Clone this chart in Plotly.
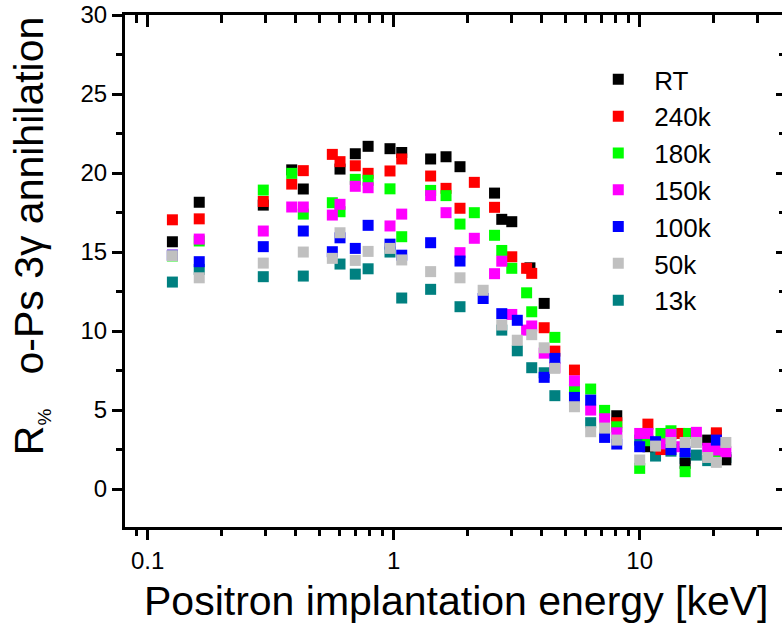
import plotly.graph_objects as go

# ---------------- data ----------------
series_names = ["RT", "240k", "180k", "150k", "100k", "50k", "13k"]
series_colors = ["#000000", "#FF0000", "#00FF00", "#FF00FF", "#0000FF", "#C0C0C0", "#008080"]

E_RT = [0.126, 0.162, 0.295, 0.385, 0.429, 0.605, 0.698, 0.787, 0.966, 1.078, 1.413, 1.632, 1.86,
        2.57, 2.75, 3.02, 3.58, 4.09, 8.07, 10.8, 15.3, 18.9, 22.4]
R_RT = [15.65, 18.15, 17.97, 20.2, 18.99, 20.25, 21.22, 21.69, 21.54, 21.3, 20.89, 21.03, 20.4,
        18.73, 17.07, 16.92, 14.0, 11.75, 4.64, 2.68, 1.63, 3.1, 1.85]

E_240 = [0.126, 0.162, 0.295, 0.385, 0.429, 0.563, 0.605, 0.698, 0.787, 0.966, 1.078, 1.413, 1.632,
         1.86, 2.127, 2.57, 3.02, 3.47, 3.64, 4.09, 4.52, 5.43, 8.07, 10.8, 12.2, 14.6, 20.5]
R_240 = [17.04, 17.1, 18.2, 19.3, 20.15, 21.18, 20.72, 20.46, 19.98, 20.13, 20.89, 19.81, 19.03,
         17.77, 19.41, 17.83, 14.7, 13.97, 13.65, 10.21, 8.73, 7.53, 4.2, 4.11, 2.5, 3.52, 3.56]

E_180 = [0.126, 0.162, 0.295, 0.385, 0.429, 0.563, 0.605, 0.698, 0.787, 0.966, 1.078, 1.413, 1.632,
         1.86, 2.127, 2.57, 2.75, 3.02, 3.47, 3.64, 4.52, 5.43, 6.32, 7.2, 8.07, 10.0, 10.8, 12.2,
         13.4, 15.3, 15.8, 20.5]
R_180 = [14.75, 15.7, 18.92, 19.98, 17.4, 18.12, 17.55, 19.6, 19.54, 19.0, 15.97, 18.9, 18.57,
         16.77, 17.49, 16.06, 15.1, 13.97, 12.42, 11.22, 9.6, 6.31, 6.33, 4.98, 3.94, 1.31, 3.06, 3.52,
         3.69, 1.1, 3.52, 2.2]

E_150 = [0.126, 0.162, 0.295, 0.385, 0.429, 0.563, 0.605, 0.698, 0.787, 0.966, 1.078, 1.413, 1.632,
         1.86, 2.127, 2.57, 2.75, 3.02, 3.47, 3.64, 4.09, 4.52, 5.43, 6.32, 7.2, 8.07, 10.0, 10.8,
         12.2, 13.4, 14.6, 17.0, 18.9, 20.5, 22.4]
R_150 = [14.8, 15.82, 16.33, 17.85, 17.85, 17.34, 18.02, 19.16, 19.07, 16.65, 17.4, 18.57, 17.49,
         14.96, 15.87, 13.63, 14.42, 11.05, 10.06, 10.32, 8.6, 7.7, 6.85, 5.0, 4.45, 3.56, 3.52, 3.52,
         2.86, 3.46, 2.68, 3.59, 2.58, 2.47, 2.36]

E_100 = [0.126, 0.162, 0.295, 0.429, 0.563, 0.605, 0.698, 0.787, 0.966, 1.078, 1.413, 1.86, 2.31,
         2.75, 3.18, 4.09, 4.52, 5.43, 6.32, 7.2, 8.07, 10.0, 11.6, 13.4, 15.3, 20.5]
R_100 = [14.8, 14.39, 15.34, 16.33, 15.02, 15.9, 15.23, 16.69, 15.5, 14.8, 15.59, 14.43, 12.06,
         11.1, 10.68, 7.07, 8.27, 5.8, 5.63, 3.27, 2.85, 2.68, 3.0, 2.5, 2.36, 3.1]

E_50 = [0.126, 0.162, 0.295, 0.429, 0.563, 0.605, 0.698, 0.787, 0.966, 1.078, 1.413, 1.86, 2.31,
        2.75, 3.18, 3.64, 4.09, 4.52, 5.43, 6.32, 7.2, 8.07, 10.0, 11.6, 13.4, 15.3, 17.0, 18.9,
        20.5, 22.4]
R_50 = [14.77, 13.37, 14.3, 15.0, 14.6, 16.22, 14.47, 15.04, 15.23, 14.5, 13.76, 13.37, 12.58,
        10.38, 9.42, 9.77, 8.94, 7.64, 5.21, 3.63, 3.86, 3.1, 1.84, 2.72, 2.95, 2.95, 2.95, 2.0,
        1.69, 2.95]

E_13 = [0.126, 0.162, 0.295, 0.429, 0.605, 0.698, 0.787, 0.966, 1.078, 1.413, 1.86, 2.75, 3.18,
        3.64, 4.09, 4.52, 6.32, 10.0, 11.6, 13.4, 15.3, 17.0, 18.9, 20.5, 22.4]
R_13 = [13.1, 13.9, 13.44, 13.48, 14.24, 13.6, 13.94, 15.0, 12.09, 12.64, 11.54, 10.06, 8.75,
        7.68, 7.36, 5.91, 4.2, 3.1, 2.09, 2.4, 1.94, 2.15, 1.8, 3.42, 2.0]

series_E = [E_RT, E_240, E_180, E_150, E_100, E_50, E_13]
series_R = [R_RT, R_240, R_180, R_150, R_100, R_50, R_13]
draw_order = [6, 0, 1, 2, 3, 4, 5]   # teal underneath, gray on top

x_major = [0.1, 1, 10]
x_major_text = ["0.1", "1", "10"]
x_minor = [0.08, 0.09, 0.2, 0.3, 0.4, 0.5, 0.6, 0.7, 0.8, 0.9,
           2, 3, 4, 5, 6, 7, 8, 9, 20, 30]
y_major = [0, 5, 10, 15, 20, 25, 30]
y_minor = [2.5, 7.5, 12.5, 17.5, 22.5, 27.5]

x_title = "Positron implantation energy [keV]"
y_title = "R<sub><span style='font-size:19px'>%</span></sub>\u00a0\u00a0 o-Ps 3\u03b3 annihilation"

# ---------------- figure ----------------
FONT = "Arial, 'Liberation Sans', sans-serif"
XR = [-1.0923, 1.5785]
YR = [-2.4, 30]

fig = go.Figure()
for i in draw_order:
    fig.add_trace(go.Scatter(
        x=series_E[i], y=series_R[i], mode="markers", name=series_names[i],
        legendrank=i + 1,
        marker=dict(symbol="square", size=11, color=series_colors[i], line=dict(width=0)),
    ))
# helper trace so that the top / right axes exist
fig.add_trace(go.Scatter(x=[], y=[], xaxis="x2", yaxis="y2", showlegend=False, hoverinfo="skip"))

axis_common = dict(showgrid=False, zeroline=False, linecolor="black", tickcolor="black")

fig.update_layout(
    width=782, height=631,
    margin=dict(l=125, r=0, t=15, b=104),
    paper_bgcolor="white", plot_bgcolor="white",
    font=dict(family=FONT, color="black"),
    xaxis=dict(type="log", range=XR, showline=True, linewidth=3, ticks="outside", ticklen=10,
               tickwidth=3, tickmode="array", tickvals=x_major, ticktext=x_major_text,
               tickfont=dict(size=24, family=FONT),
               minor=dict(tickmode="array", tickvals=x_minor, ticks="outside", ticklen=6,
                          tickwidth=3, tickcolor="black"),
               **axis_common),
    yaxis=dict(range=YR, showline=True, linewidth=3, ticks="outside", ticklen=10, tickwidth=3,
               tickmode="array", tickvals=y_major, tickfont=dict(size=24, family=FONT),
               minor=dict(tickmode="array", tickvals=y_minor, ticks="outside", ticklen=6,
                          tickwidth=3, tickcolor="black"),
               **axis_common),
    xaxis2=dict(type="log", range=XR, overlaying="x", side="top", anchor="y2", showline=True,
                linewidth=3, ticks="inside", ticklen=12, tickwidth=3, tickmode="array",
                tickvals=x_major, showticklabels=False,
                minor=dict(tickmode="array", tickvals=x_minor, ticks="inside", ticklen=8,
                           tickwidth=3, tickcolor="black"),
                **axis_common),
    yaxis2=dict(range=YR, overlaying="y", side="right", anchor="x2", showline=False,
                ticks="inside", ticklen=6, tickwidth=3, tickmode="array", tickvals=y_major,
                showticklabels=False,
                minor=dict(tickmode="array", tickvals=y_minor, ticks="inside", ticklen=3,
                           tickwidth=3, tickcolor="black"),
                **axis_common),
    showlegend=True,
    legend=dict(x=0.696, y=0.92, xanchor="left", yanchor="top", bgcolor="rgba(0,0,0,0)",
                font=dict(size=26, family=FONT), traceorder="normal", itemwidth=62),
    annotations=[
        dict(text=x_title, xref="paper", yref="paper", x=0.504, y=-0.145, xanchor="center",
             yanchor="middle", showarrow=False, font=dict(size=41, family=FONT)),
        dict(text=y_title, xref="paper", yref="paper", x=-0.143, y=0.568, xanchor="center",
             yanchor="middle", textangle=-90, showarrow=False, font=dict(size=41, family=FONT)),
    ],
)

fig.write_html("out.html")
